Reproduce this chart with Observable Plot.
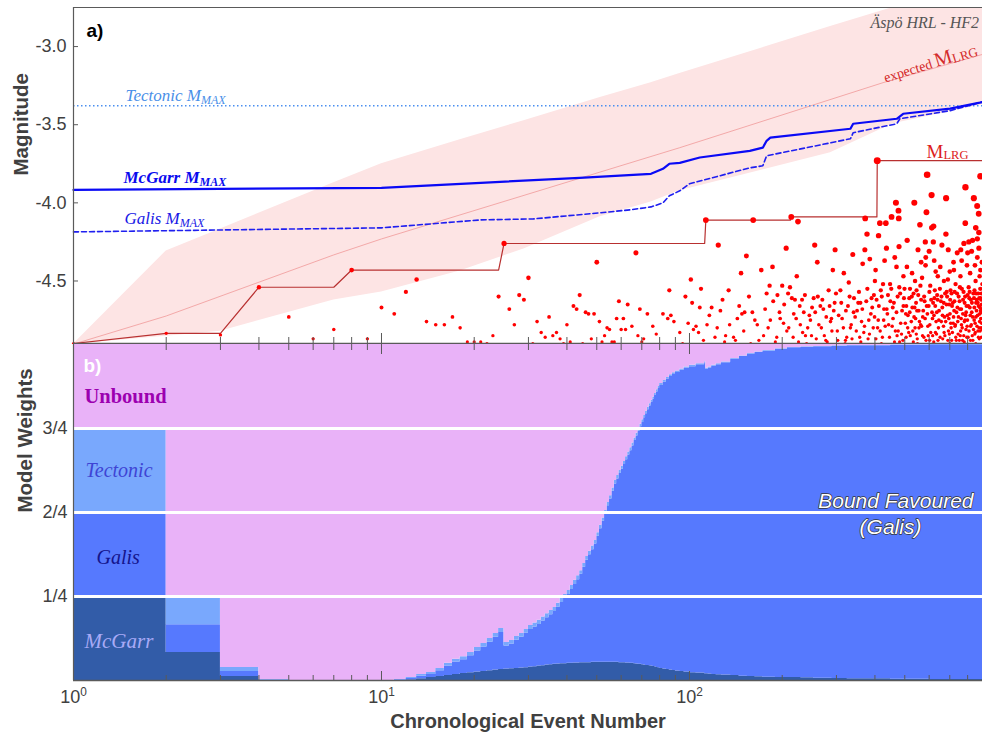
<!DOCTYPE html>
<html><head><meta charset="utf-8">
<script src="https://cdn.jsdelivr.net/npm/d3@7"></script>
<script src="https://cdn.jsdelivr.net/npm/@observablehq/plot@0.6"></script>
<style>
html,body{margin:0;padding:0;background:#fff;}
#chart{width:982px;height:734px;position:relative;overflow:hidden;}
#chart svg{display:block;}
</style></head><body><div id="chart"></div>
<script>
// ---------- Panel a data ----------
const eventMag = [
[1,-4.90],[2,-4.835],[3,-4.845],[4,-4.54],[5,-4.73],[6,-4.87],[7,-4.81],[8,-4.43],[9,-4.87],[10,-4.67],
[11,-4.71],[12,-4.57],[13,-4.49],[14,-4.76],[15,-4.78],[16,-4.78],[17,-4.73],[18,-4.80],[19,-4.89],[20,-4.89],
[21,-4.89],[22,-4.90],[23,-4.85],[24,-4.60],[25,-4.26],[26,-4.68],[27,-4.78],[28,-4.59],[29,-4.62],[30,-4.48],
[31,-4.90],[32,-4.76],[33,-4.83],[34,-4.86],[35,-4.73],[36,-4.85],[37,-4.83],[38,-4.87],[39,-4.90],[40,-4.78],
[41,-4.89],[42,-4.66],[43,-4.68],[44,-4.59],[45,-4.90],[46,-4.70],[47,-4.71],[48,-4.87],[49,-4.71],[50,-4.38],
[51,-4.76],[52,-4.89],[53,-4.85],[54,-4.80],[55,-4.81],[56,-4.89],[57,-4.89],[58,-4.74],[59,-4.63],[60,-4.81],
[61,-4.74],[62,-4.81],[63,-4.65],
[407,-3.73],[591,-3.82],[881,-3.83],[787,-3.90],[838,-3.97],[611,-3.95],[681,-3.97],[468,-4.00],[537,-4.00],[859,-4.02],
[477,-4.05],[588,-4.06],[869,-4.07],[453,-4.09],[478,-4.10],[372,-4.10],[214,-4.09],[161,-4.11],[113,-4.11],[225,-4.12],
[415,-4.13],[434,-4.13],[786,-4.13],[560,-4.14],[612,-4.16],[620,-4.15],[377,-4.20],[411,-4.21],[680,-4.20],[870,-4.19],
[583,-4.25],[619,-4.25],[509,-4.24],[778,-4.26],[807,-4.25],[124,-4.27],[255,-4.27],[206,-4.29],[436,-4.29],[552,-4.30],
[692,-4.30],[479,-4.28],[297,-4.30],[371,-4.30],[67,-4.32],[824,-4.31],[153,-4.34],[464,-4.35],[339,-4.33],[585,-4.35],
[623,-4.37],[260,-4.38],[385,-4.36],[147,-4.45],[171,-4.43],[186,-4.41],[223,-4.47],[292,-4.43],[317,-4.45],[365,-4.39],
[402,-4.43],[508,-4.41],[528,-4.45],[722,-4.43],[880,-4.43],[101,-4.49],[86,-4.56],
[870,-4.29],[860,-4.23],[845,-4.40],[890,-4.38],[815,-4.45],[765,-4.37],[740,-4.32],[700,-4.44],[660,-4.27],[640,-4.47],[600,-4.31],
[720,-4.38],[760,-4.30],[800,-4.32],[830,-4.24],[850,-4.16],[875,-4.47],[893,-4.52],[755,-4.54],[690,-4.49],[630,-4.44],
[565,-4.38],[540,-4.50],[495,-4.47],[470,-4.41],[430,-4.37],[400,-4.50],
[69,-4.68],[73,-4.71],[82,-4.71],[87,-4.72],[97,-4.60],[102,-4.64],[109,-4.55],[134,-4.56],[108,-4.67],[118,-4.67],
[126,-4.69],[148,-4.71],[160,-4.70],[178,-4.58],[182,-4.53],[193,-4.59],[200,-4.53],[212,-4.54],[215,-4.61],[232,-4.62],
[253,-4.61],[266,-4.66],[294,-4.69],[309,-4.56],[329,-4.51],[342,-4.61],[359,-4.64],[397,-4.59],[425,-4.52],[449,-4.63],
[480,-4.54],[497,-4.61],[546,-4.56],[569,-4.48],[605,-4.53],[637,-4.59],[670,-4.50],[704,-4.56],[758,-4.47],[806,-4.54],
[849,-4.50],[882,-4.61],[520,-4.55],[731,-4.52],[796,-4.40],[860,-4.35],[839,-4.61],[652,-4.41],[584,-4.40],
[65,-4.79],[68,-4.85],[71,-4.87],[76,-4.79],[78,-4.84],[85,-4.74],[89,-4.76],[93,-4.83],[99,-4.77],[105,-4.79],
[107,-4.83],[114,-4.78],[121,-4.86],[131,-4.85],[139,-4.86],[143,-4.74],[151,-4.70],[166,-4.78],[174,-4.85],[183,-4.75],
[197,-4.74],[207,-4.82],[218,-4.71],[229,-4.78],[238,-4.85],[247,-4.75],[263,-4.78],[274,-4.85],[287,-4.76],[302,-4.82],
[313,-4.74],[324,-4.86],[335,-4.78],[350,-4.69],[368,-4.83],[382,-4.75],[392,-4.67],[408,-4.80],[423,-4.86],[439,-4.71],
[455,-4.79],[461,-4.64],[472,-4.85],[490,-4.69],[502,-4.77],[515,-4.83],[529,-4.67],[542,-4.74],[556,-4.80],[565,-4.62],
[577,-4.86],[592,-4.71],[603,-4.78],[618,-4.64],[629,-4.83],[646,-4.69],[657,-4.76],[671,-4.83],[683,-4.65],[695,-4.74],
[707,-4.80],[723,-4.69],[732,-4.86],[743,-4.76],[759,-4.82],[773,-4.62],[788,-4.72],[797,-4.79],[813,-4.67],[828,-4.85],
[840,-4.75],[855,-4.69],[871,-4.80],[883,-4.74],[888,-4.65],
[70,-4.89],[95,-4.90],[130,-4.89],[158,-4.90],[190,-4.89],[240,-4.90],[280,-4.89],[320,-4.90],[360,-4.89],[420,-4.90],
[481,-4.89],[550,-4.90],[621,-4.89],[700,-4.90],[780,-4.89],[850,-4.90],
[452,-4.55],[458,-4.74],[466,-4.82],[474,-4.60],[485,-4.77],[493,-4.88],[506,-4.66],[512,-4.72],[521,-4.85],[534,-4.58],
[540,-4.80],[548,-4.69],[558,-4.76],[562,-4.53],[572,-4.73],[580,-4.63],[596,-4.85],[601,-4.57],[613,-4.70],[624,-4.61],
[632,-4.76],[641,-4.88],[650,-4.55],[662,-4.67],[668,-4.79],[676,-4.58],[688,-4.72],[698,-4.84],[702,-4.62],[712,-4.66],
[718,-4.77],[726,-4.57],[736,-4.70],[748,-4.60],[752,-4.88],[762,-4.74],[766,-4.55],[782,-4.64],[790,-4.81],[800,-4.59],
[816,-4.72],[820,-4.62],[832,-4.88],[842,-4.56],[846,-4.77],[852,-4.64],[862,-4.72],[866,-4.58],[873,-4.87],[877,-4.67],
[884,-4.80],[891,-4.70],
[305,-4.72],[321,-4.88],[327,-4.66],[333,-4.80],[345,-4.73],[355,-4.57],[362,-4.76],[375,-4.63],[380,-4.87],[388,-4.71],
[395,-4.80],[405,-4.62],[410,-4.75],[418,-4.56],[428,-4.68],[432,-4.79],[441,-4.59],[446,-4.86],
[203,-4.65],[210,-4.80],[220,-4.62],[226,-4.89],[235,-4.70],[242,-4.80],[250,-4.67],[258,-4.87],[270,-4.62],[278,-4.73],
[283,-4.56],[290,-4.82],[296,-4.64],
[505,-4.86],[517,-4.61],[525,-4.76],[533,-4.89],[538,-4.67],[545,-4.84],[553,-4.59],[567,-4.79],[574,-4.69],[586,-4.88],
[598,-4.66],[607,-4.83],[615,-4.74],[626,-4.56],[635,-4.70],[643,-4.80],[655,-4.63],[664,-4.87],[673,-4.73],[686,-4.60],
[693,-4.82],[701,-4.71],[710,-4.88],[716,-4.64],[728,-4.79],[739,-4.58],[745,-4.84],[755,-4.68],[764,-4.78],[770,-4.88],
[776,-4.57],[784,-4.75],[793,-4.66],[803,-4.86],[810,-4.61],[818,-4.79],[825,-4.70],[835,-4.58],[844,-4.84],[851,-4.73],
[857,-4.62],[864,-4.82],[868,-4.66],[875,-4.76],[879,-4.55],[886,-4.86],[892,-4.68],[889,-4.77],[885,-4.62],[876,-4.71],
[103,-4.81],[111,-4.88],[116,-4.72],[123,-4.80],[128,-4.62],[135,-4.78],[141,-4.88],[145,-4.66],[150,-4.82],[156,-4.60],
[163,-4.75],[168,-4.88],[176,-4.68],[180,-4.80],[187,-4.63],[192,-4.86],[196,-4.70],
[202,-4.77],[209,-4.58],[217,-4.86],[222,-4.74],[228,-4.66],[233,-4.83],[237,-4.59],[245,-4.72],[249,-4.85],[256,-4.70],
[261,-4.60],[268,-4.80],[272,-4.68],[277,-4.88],[285,-4.66],[289,-4.74],[299,-4.58],[303,-4.88],[311,-4.64],[316,-4.80],
[322,-4.69],[331,-4.60],[337,-4.87],[341,-4.70],[348,-4.82],[353,-4.64],[357,-4.86],[364,-4.68],[370,-4.79],[378,-4.55],
[384,-4.84],[390,-4.61],[399,-4.73],[403,-4.87],
[412,-4.66],[416,-4.82],[421,-4.60],[427,-4.75],[437,-4.68],[443,-4.78],[448,-4.52],[457,-4.67],[463,-4.89],[470,-4.70],
[476,-4.82],[483,-4.58],[488,-4.84],[495,-4.66],[499,-4.55],[504,-4.71],[511,-4.80],[519,-4.70],[527,-4.60],[531,-4.82],
[536,-4.73],[544,-4.64],[549,-4.87],[555,-4.69],[563,-4.78],[571,-4.85],[578,-4.60],[582,-4.74],[589,-4.66],[594,-4.79],
[602,-4.88],[609,-4.62],[616,-4.85],[622,-4.72],[628,-4.66],[634,-4.84],[639,-4.62],[645,-4.75],[651,-4.86],[658,-4.60],
[663,-4.72],[669,-4.64],[675,-4.85],[679,-4.76],[684,-4.57],[690,-4.88],[697,-4.65],[705,-4.77],[709,-4.58],[714,-4.83],
[720,-4.73],[725,-4.63],[730,-4.78],[735,-4.88],[741,-4.67],[747,-4.73],[753,-4.63],[757,-4.85],[763,-4.68],[768,-4.80],
[772,-4.71],[777,-4.85],[781,-4.76],[785,-4.60],[791,-4.70],[795,-4.86],[799,-4.75],[804,-4.66],[808,-4.82],[812,-4.57],
[817,-4.88],[822,-4.78],[826,-4.64],[831,-4.73],[836,-4.81],[841,-4.67],[847,-4.83],[853,-4.58],[858,-4.79],[863,-4.64],
[867,-4.86],[872,-4.61],[878,-4.82],[882,-4.69],[887,-4.58],[893,-4.81]
];

// running largest magnitude (M_LRG) step line
const lrgN = [1,2,3,4,7,8,24,25,112,113,213,214,406,407,894];
const lrgM = [-4.90,-4.835,-4.835,-4.54,-4.54,-4.43,-4.43,-4.26,-4.26,-4.11,-4.11,-4.09,-4.09,-3.73,-3.73];

// expected M_LRG and its band
const expN = [1,2,7,10,93,425,894];
const expM = [-4.904,-4.724,-4.333,-4.231,-3.647,-3.231,-3.05];
const bandN  = [1,2,3,7,10,18,29,51,75,93,287,458,894];
const bandLo = [-4.904,-4.853,-4.821,-4.622,-4.571,-4.436,-4.295,-4.090,-3.994,-3.923,-3.679,-3.494,-3.372];
const bandHi = [-4.904,-4.308,-4.167,-3.872,-3.750,-3.596,-3.474,-3.327,-3.231,-3.173,-2.872,-2.750,-2.577];

// M_MAX estimates
const tectonicMmax = -3.378;
const mcgarrN = [1,10,21,44,75,82,86,93,108,157,173,178,183,333,340,471,494,702,876,894];
const mcgarrM = [-3.917,-3.904,-3.872,-3.840,-3.814,-3.782,-3.750,-3.744,-3.710,-3.667,-3.647,-3.603,-3.583,-3.526,-3.494,-3.462,-3.430,-3.397,-3.359,-3.355];
const galisN = [1,10,21,31,34,51,64,75,82,86,93,100,157,173,178,333,340,471,482,702,876,894];
const galisM = [-4.186,-4.160,-4.109,-4.103,-4.096,-4.064,-4.045,-4.026,-4.000,-3.955,-3.923,-3.878,-3.776,-3.763,-3.699,-3.590,-3.551,-3.494,-3.462,-3.410,-3.359,-3.355];

const magTicks = [-4.5,-4.0,-3.5,-3.0];

// ---------- Panel b data ----------
const modelNames  = ["McGarr","Galis","Tectonic","Unbound"];
const modelColors = ["#325ca8","#5679fe","#79a8fd","#e9b2f8"];
const weightN = [1,2,3,4,5,
 11,12,13,14,15,16,17,18,19,20,21,22,23,24,25,26,27,28,29,30,
 31,32,33,34,35,36,37,38,39,40,41,42,43,44,45,46,47,48,49,50,
 51,52,53,54,55,56,57,58,59,60,61,62,63,64,65,66,67,68,69,70,
 71,72,73,74,75,76,77,78,79,80,
 82,84,86,88,90,93,96,100,105,112,113,115,118,122,127,136,145,154,163,173,190,208,230,253,290,325,450,600,894];
const wMcGarr = [.25,.083,.012,.001,0,
 0,.002,.005,.009,.012,.015,.018,.021,.023,.025,.027,.029,.031,.033,.034,.035,.036,.037,.038,.040,
 .041,.043,.044,.046,.047,.048,.049,.050,.050,.051,.051,.052,.052,.053,.053,.053,.053,.054,.054,.054,
 .054,.054,.054,.054,.054,.054,.054,.054,.053,.053,.053,.052,.052,.051,.051,.050,.049,.048,.048,.047,
 .046,.045,.045,.044,.043,.042,.041,.039,.038,.036,
 .034,.033,.031,.030,.028,.027,.025,.023,.022,.020,.020,.019,.018,.017,.016,.015,.013,.012,.011,.010,.009,.009,.008,.007,.006,.005,.004,.003,.003];
const wGalis = [.25,.083,.015,.001,0,
 .002,.004,.008,.009,.017,.028,.037,.041,.051,.063,.073,.085,.098,.110,.069,.074,.084,.092,.103,.112,
 .118,.124,.133,.141,.149,.157,.169,.182,.194,.205,.220,.234,.248,.263,.284,.305,.321,.335,.352,.375,
 .398,.420,.442,.466,.486,.509,.531,.546,.563,.576,.590,.605,.619,.633,.647,.664,.679,.694,.707,.721,
 .736,.749,.761,.773,.785,.796,.807,.820,.831,.842,
 .854,.864,.874,.881,.889,.896,.904,.911,.918,.926,.906,.911,.917,.923,.930,.941,.951,.959,.965,.970,.977,.981,.984,.986,.989,.991,.994,.996,.996];
const wTectonic = [.25,.078,.012,.001,0,
 .001,.003,.005,.006,.007,.008,.008,.009,.009,.010,.010,.011,.011,.012,.010,.010,.011,.011,.011,.012,
 .012,.012,.012,.012,.012,.012,.012,.012,.012,.012,.012,.012,.012,.011,.011,.011,.011,.011,.011,.011,
 .010,.010,.010,.010,.010,.010,.010,.010,.009,.009,.009,.009,.009,.009,.009,.008,.008,.008,.008,.008,
 .007,.007,.007,.007,.006,.006,.006,.006,.006,.006,
 .005,.005,.005,.005,.004,.004,.004,.004,.003,.003,.003,.003,.003,.003,.002,.002,.002,.002,.002,.002,.001,.001,.001,.001,.001,.001,.001,.001,.001];
const wUnbound = [.25,.756,.961,.997,1,
 .997,.991,.982,.976,.964,.949,.937,.929,.917,.902,.890,.875,.860,.845,.887,.881,.869,.860,.848,.836,
 .829,.821,.811,.801,.792,.783,.770,.756,.744,.732,.717,.702,.688,.673,.652,.631,.615,.600,.583,.560,
 .538,.516,.494,.470,.450,.427,.405,.390,.375,.362,.348,.334,.320,.307,.293,.278,.264,.250,.237,.224,
 .211,.199,.187,.176,.166,.156,.146,.135,.125,.116,
 .107,.098,.090,.084,.079,.073,.067,.062,.057,.051,.071,.067,.062,.057,.052,.042,.034,.027,.022,.018,.013,.009,.007,.006,.004,.003,.001,0,0];
const weightTicks = [0.25,0.5,0.75];
const weightTickLabels = ["1/4","2/4","3/4"];

const xMajor = [1,10,100];
const xMinor = [2,3,4,5,6,7,8,9,20,30,40,50,60,70,80,90,200,300,400,500,600,700,800];

// ---------- build tables ----------
const events = eventMag.map(([n,m]) => ({n, m}));
const lrg = lrgN.map((n,i) => ({n, m: lrgM[i]}));
const expRows = expN.map((n,i) => ({n, m: expM[i]}));
const band = bandN.map((n,i) => ({n, lo: bandLo[i], hi: bandHi[i]}));
const mcgarr = mcgarrN.map((n,i) => ({n, m: mcgarrM[i]}));
const galis = galisN.map((n,i) => ({n, m: galisM[i]}));
const wSeries = {McGarr: wMcGarr, Galis: wGalis, Tectonic: wTectonic, Unbound: wUnbound};
const weights = modelNames.flatMap(model => weightN.map((n,i) => ({n, model, w: wSeries[model][i]})));

const SANS = "Liberation Sans, Arial, Helvetica, sans-serif";
const SERIF = "Liberation Serif, Times New Roman, serif";
const AXIS = "#5a5a5a";
const PW = 909; // plot frame width

const richLabels = {
  "Tectonic M_MAX": [["Tectonic M"],["MAX","12px","0.32em"]],
  "McGarr M_MAX": [["McGarr M"],["MAX","12px","0.32em"]],
  "Galis M_MAX": [["Galis M"],["MAX","12px","0.32em"]],
  "M_LRG": [["M"],["LRG","12.5px","0.15em"]],
  "expected M_LRG": [["expected "],["M","20px"],["LRG","13px","0.1em"]]
};
function applyRich(svg) {
  d3.select(svg).selectAll("text").each(function() {
    const t = this.textContent;
    let segs = richLabels[t];
    if (!segs) {
      const m = t.match(/^(\d+)\^(\d+)$/);
      if (m) segs = [[m[1]], [m[2], "0.66em", "-0.6em"]];
    }
    if (!segs) return;
    const el = d3.select(this);
    el.text(null);
    for (const [s, size, dy] of segs) {
      const ts = el.append("tspan").text(s);
      if (size) ts.attr("font-size", size);
      if (dy) ts.attr("dy", dy);
    }
  });
}
function note(txt, o) {
  return Plot.text([txt], Object.assign({text: d => d, frameAnchor: "top-left", textAnchor: "start", lineAnchor: "bottom"}, o));
}

// ---------- Panel a ----------
const panelA = Plot.plot({
  width: 982, height: 344,
  marginLeft: 73, marginRight: 0, marginTop: 7, marginBottom: 1,
  style: {fontFamily: SANS, fontSize: "18px", color: "#404040", background: "transparent"},
  x: {type: "log", domain: [1, 894], axis: null},
  y: {domain: [-4.9, -2.75], axis: null},
  r: {type: "linear", domain: [-4.9, -3.7], range: [1.6, 3.5]},
  marks: [
    Plot.areaY(band, {x: "n", y1: "lo", y2: "hi", fill: "#fde4e4", clip: true}),
    Plot.line(expRows, {x: "n", y: "m", stroke: "#f2a2a2", strokeWidth: 0.9, clip: true}),
    Plot.ruleY([tectonicMmax], {stroke: "#4b8ff0", strokeWidth: 1.5, strokeDasharray: "1.5,2.5"}),
    Plot.line(galis, {x: "n", y: "m", stroke: "#1f1ff0", strokeWidth: 1.6, strokeDasharray: "5,3"}),
    Plot.line(mcgarr, {x: "n", y: "m", stroke: "#0a0af5", strokeWidth: 2.2}),
    Plot.line(lrg, {x: "n", y: "m", stroke: "#b83030", strokeWidth: 1.2}),
    Plot.dot(events, {x: "n", y: "m", r: "m", fill: "#ff0000"}),
    // frame lines and inward ticks
    Plot.ruleY([-2.75], {stroke: AXIS, strokeWidth: 1.2}),
    Plot.ruleY([-4.9], {stroke: AXIS, strokeWidth: 1.4}),
    Plot.ruleX([1], {stroke: AXIS, strokeWidth: 1.2}),
    Plot.ruleY(magTicks, {stroke: AXIS, insetRight: PW - 5}),
    Plot.ruleX(xMinor, {stroke: AXIS, insetTop: 336 - 6}),
    Plot.ruleX(xMajor, {stroke: AXIS, insetTop: 336 - 10}),
    Plot.axisY(magTicks, {label: null, tickFormat: d => d.toFixed(1), tickSize: 0, tickPadding: 7, fontSize: 18, fill: "#404040"}),
    Plot.text(["Magnitude"], {text: d => d, frameAnchor: "left", dx: -52, rotate: -90, fontWeight: "bold", fontSize: 20.5, fill: "#404040"}),
    note("a)", {dx: 13, dy: 29, fontWeight: "bold", fontSize: 19, fill: "#000"}),
    note("Tectonic M_MAX", {dx: 52, dy: 93, fontFamily: SERIF, fontStyle: "italic", fontSize: 17, fill: "#4a8fe8"}),
    note("McGarr M_MAX", {dx: 50, dy: 175, fontFamily: SERIF, fontStyle: "italic", fontWeight: "bold", fontSize: 17, fill: "#0a0aee"}),
    note("Galis M_MAX", {dx: 51, dy: 216, fontFamily: SERIF, fontStyle: "italic", fontSize: 17, fill: "#1a1ae6"}),
    note("Äspö HRL - HF2", {dx: 797, dy: 20, fontFamily: SERIF, fontStyle: "italic", fontSize: 16, fill: "#555"}),
    note("M_LRG", {dx: 853, dy: 150, fontFamily: SERIF, fontSize: 19, fill: "#dd1c1c"}),
    note("expected M_LRG", {dx: 812, dy: 75, rotate: -17, fontFamily: SERIF, fontSize: 14, fill: "#d42a2a"})
  ]
});
applyRich(panelA);

// ---------- Panel b ----------
const panelB = Plot.plot({
  width: 982, height: 390,
  marginLeft: 73, marginRight: 0, marginTop: 0, marginBottom: 54,
  style: {fontFamily: SANS, fontSize: "18px", color: "#404040", background: "transparent"},
  x: {type: "log", domain: [1, 894], axis: null},
  y: {domain: [0, 1], axis: null},
  color: {domain: modelNames, range: modelColors},
  marks: [
    Plot.areaY(weights, {x: "n", y: "w", z: "model", fill: "model", curve: "step-after", order: modelNames}),
    Plot.ruleY(weightTicks, {stroke: "white", strokeWidth: 3}),
    Plot.ruleX([1], {stroke: AXIS, strokeWidth: 1.2}),
    Plot.ruleY([0], {stroke: AXIS, strokeWidth: 1.4}),
    Plot.ruleX(xMinor, {stroke: AXIS, insetBottom: 336 - 6}),
    Plot.ruleX(xMajor, {stroke: AXIS, insetBottom: 336 - 10}),
    Plot.ruleX(xMinor, {stroke: AXIS, insetTop: 336 - 5}),
    Plot.ruleX(xMajor, {stroke: AXIS, insetTop: 336 - 9}),
    Plot.axisY(weightTicks, {label: null, tickFormat: d => weightTickLabels[weightTicks.indexOf(d)], tickSize: 0, tickPadding: 6, fontSize: 18, fill: "#404040"}),
    Plot.axisX(xMajor, {label: null, tickFormat: d => "10^" + Math.round(Math.log10(d)), tickSize: 0, tickPadding: 10, fontSize: 18, fill: "#404040"}),
    Plot.text(["Model Weights"], {text: d => d, frameAnchor: "left", dx: -48, rotate: -90, fontWeight: "bold", fontSize: 20.5, fill: "#404040"}),
    Plot.text(["Chronological Event Number"], {text: d => d, frameAnchor: "bottom", dy: 47, lineAnchor: "bottom", fontWeight: "bold", fontSize: 20, fill: "#404040"}),
    note("b)", {dx: 10, dy: 27, fontWeight: "bold", fontSize: 19, fill: "#fff"}),
    note("Unbound", {dx: 11, dy: 58, fontFamily: SERIF, fontWeight: "bold", fontSize: 20.5, fill: "#9c00b0"}),
    note("Tectonic", {dx: 12, dy: 132, fontFamily: SERIF, fontStyle: "italic", fontSize: 20, fill: "#3e44d4"}),
    note("Galis", {dx: 23, dy: 219, fontFamily: SERIF, fontStyle: "italic", fontSize: 20, fill: "#14148c"}),
    note("McGarr", {dx: 11, dy: 303, fontFamily: SERIF, fontStyle: "italic", fontSize: 21, fill: "#a8aaf6"}),
    note("Bound Favoured", {frameAnchor: "top-right", textAnchor: "end", dx: -9, dy: 163, fontStyle: "italic", fontSize: 21, fill: "#fff", stroke: "#333", strokeWidth: 1.4}),
    note("(Galis)", {textAnchor: "middle", dx: 817, dy: 189, fontStyle: "italic", fontSize: 21, fill: "#fff", stroke: "#333", strokeWidth: 1.4})
  ]
});
applyRich(panelB);

const host = document.getElementById("chart");
host.appendChild(panelA);
host.appendChild(panelB);
</script></body></html>
